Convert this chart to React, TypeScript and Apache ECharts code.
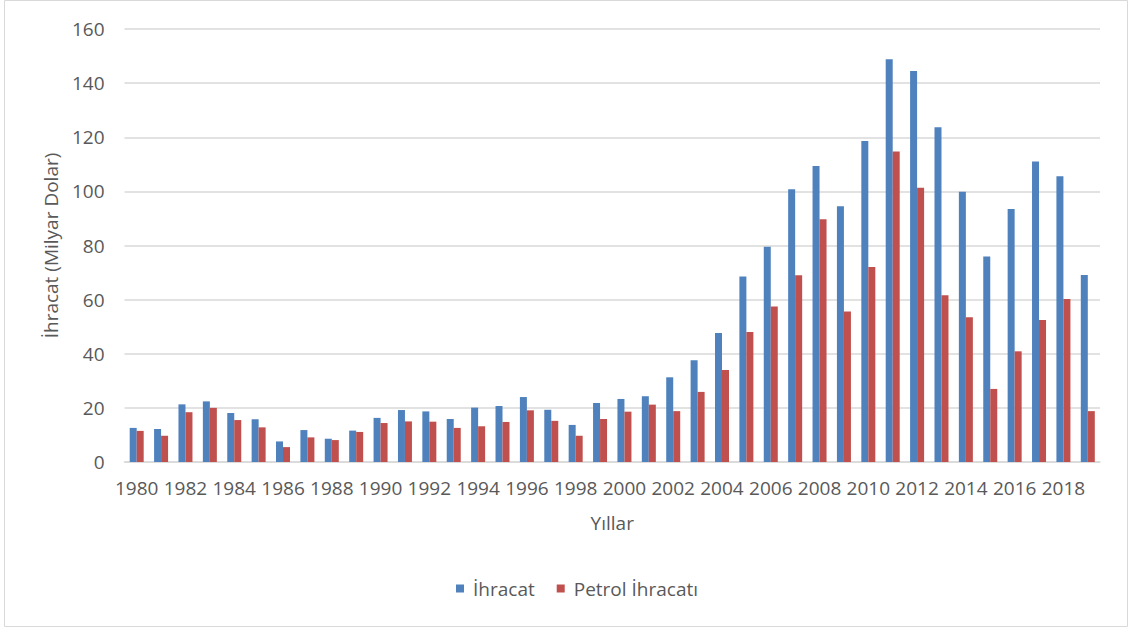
import React, { useEffect, useRef } from "react";
import * as echarts from "echarts";

const years: string[] = [];
for (let y = 1980; y <= 2019; y++) years.push(String(y));

const ihracat = [
  12.6, 12.2, 21.3, 22.4, 18.1, 15.8, 7.6, 11.8, 8.6, 11.6, 16.3,
  19.2, 18.7, 15.9, 20.1, 20.7, 24.0, 19.3, 13.7, 21.8, 23.3, 24.3, 31.3, 37.6,
  47.7, 68.5, 79.5, 100.8, 109.4, 94.5, 118.6,
  148.8, 144.5, 123.7, 99.9, 75.9, 93.5, 111.0, 105.6, 69.1,
];

const petrol = [
  11.5, 9.7, 18.4, 20.0, 15.5, 12.8, 5.5, 9.1, 8.1, 11.1, 14.4,
  15.0, 14.9, 12.6, 13.2, 14.8, 19.1, 15.2, 9.7, 15.9, 18.6, 21.2, 18.8, 25.9,
  34.0, 48.0, 57.5, 69.0, 89.7, 55.6, 72.1,
  114.7, 101.3, 61.6, 53.5, 27.0, 40.9, 52.5, 60.2, 18.8,
];

const FONT = "'Open Sans', 'Noto Sans', sans-serif";
const TXT = "#595959";
const FS = 19;

export default function App() {
  const ref = useRef<HTMLDivElement>(null);
  useEffect(() => {
    document.body.style.margin = "0";
    const chart = echarts.init(ref.current!, undefined, { renderer: "svg" });
    chart.setOption({
      animation: false,
      backgroundColor: "#ffffff",
      textStyle: { fontFamily: FONT },
      graphic: [
        {
          type: "rect",
          shape: { x: 4.5, y: 0.5, width: 1123, height: 626 },
          style: { fill: "none", stroke: "#D9D9D9", lineWidth: 1 },
          silent: true,
        },
      ],
      grid: { left: 124.5, right: 30, top: 29, bottom: 167, containLabel: false },
      legend: {
        bottom: 26,
        left: 451,
        itemWidth: 8,
        itemHeight: 8,
        itemGap: 22,
        icon: "rect",
        textStyle: { fontFamily: FONT, fontSize: FS, color: TXT, padding: [0, 0, 0, 4] },
        data: ["İhracat", "Petrol İhracatı"],
      },
      xAxis: {
        type: "category",
        data: years,
        name: "Yıllar",
        nameLocation: "middle",
        nameGap: 51,
        nameTextStyle: { fontFamily: FONT, fontSize: FS, color: TXT },
        axisLine: { lineStyle: { color: "#D9D9D9", width: 1.5 } },
        axisTick: { show: false },
        axisLabel: { interval: 1, fontFamily: FONT, fontSize: FS, color: TXT, margin: 16 },
      },
      yAxis: {
        type: "value",
        min: 0,
        max: 160,
        interval: 20,
        name: "İhracat (Milyar Dolar)",
        nameLocation: "middle",
        nameRotate: 90,
        nameGap: 64,
        nameTextStyle: { fontFamily: FONT, fontSize: FS, color: TXT },
        axisLine: { show: false },
        axisTick: { show: false },
        axisLabel: { fontFamily: FONT, fontSize: FS, color: TXT, margin: 20 },
        splitLine: { lineStyle: { color: "#D9D9D9", width: 1.5 } },
      },
      series: [
        {
          name: "İhracat",
          type: "bar",
          data: ihracat,
          barWidth: 7,
          barGap: "0%",
          itemStyle: { color: "#4F81BD" },
        },
        {
          name: "Petrol İhracatı",
          type: "bar",
          data: petrol,
          barWidth: 7,
          barGap: "0%",
          itemStyle: { color: "#C0504D" },
        },
      ],
    });
    return () => chart.dispose();
  }, []);
  return <div ref={ref} style={{ width: 1130, height: 629 }} />;
}
